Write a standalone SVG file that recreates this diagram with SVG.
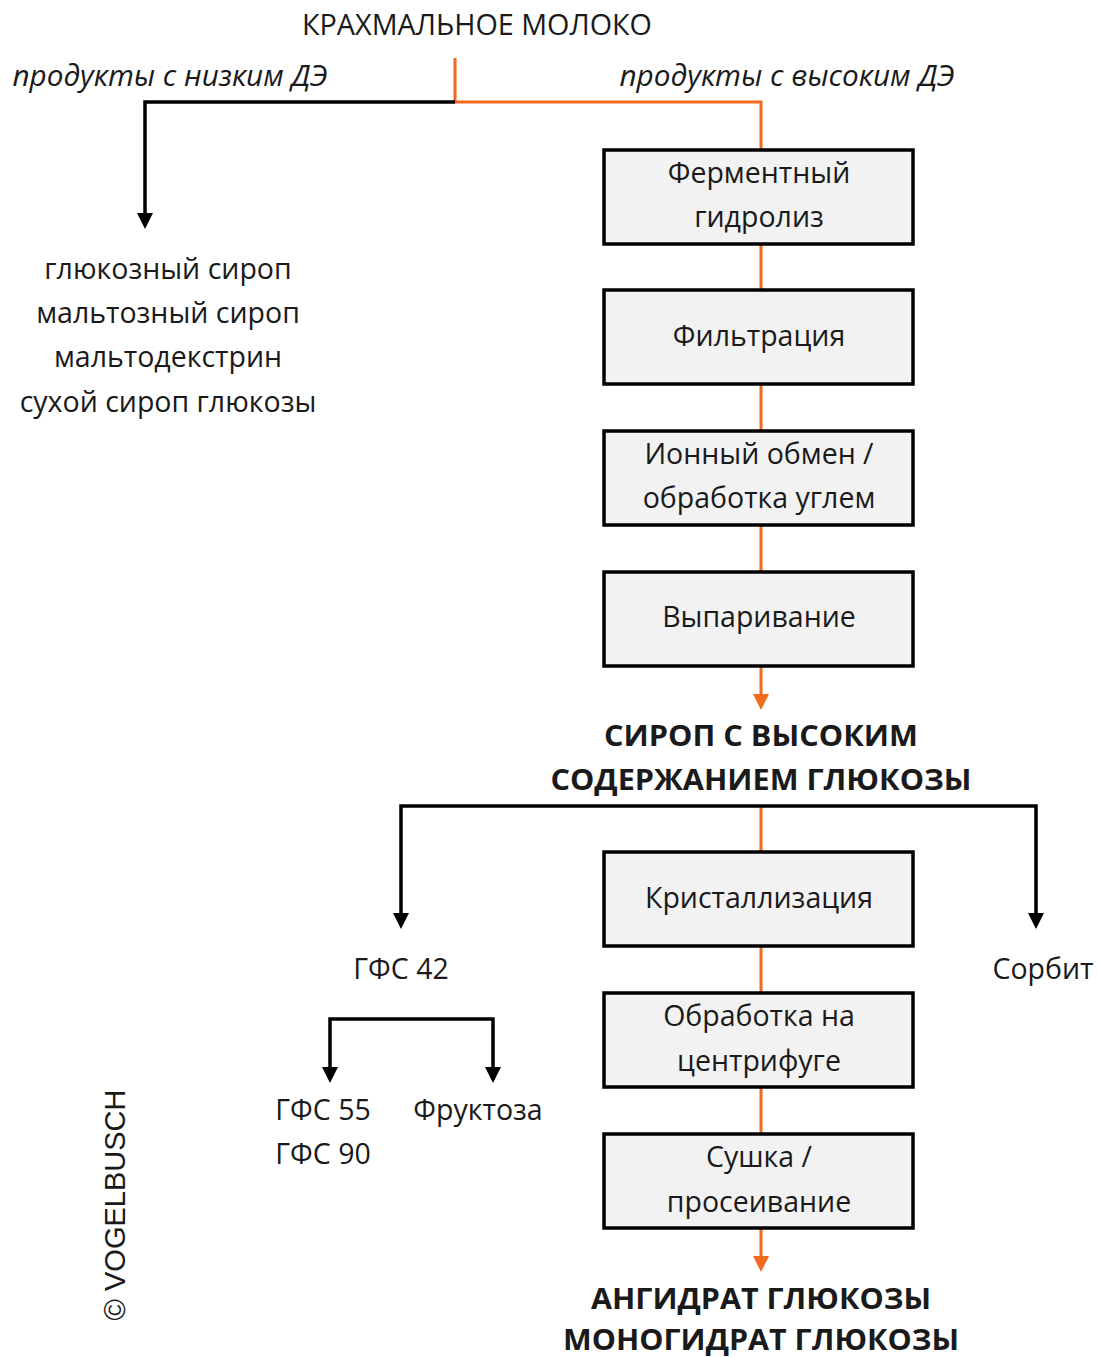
<svg xmlns="http://www.w3.org/2000/svg" width="1098" height="1357" viewBox="0 0 1098 1357">
<style>
.t{font-family:"Open Sans","Noto Sans",sans-serif;font-size:28.5px;fill:#1a1a1a;text-anchor:middle}
.i{font-style:italic}
.b{font-weight:bold}
.box{fill:#f2f2f2;stroke:#000;stroke-width:3.5}
.o{stroke:#f26a1b;stroke-width:3;fill:none}
.k{stroke:#000;stroke-width:3.5;fill:none}
</style>
<rect width="1098" height="1357" fill="#fff"/>
<g id="connectors">
<path class="o" d="M455 58V102H761V150"/>
<path class="k" d="M455 102H145V214"/>
<polygon points="137,213 153,213 145,229" fill="#000"/>
<path class="o" d="M761 244V290M761 384V431M761 525V572M761 666V696"/>
<polygon points="753,694 769,694 761,710" fill="#f26a1b"/>
<path class="o" d="M761 806V852M761 946V993M761 1087V1134M761 1228V1258"/>
<polygon points="753,1256 769,1256 761,1272" fill="#f26a1b"/>
<path class="k" d="M401 914V806H1036V914"/>
<polygon points="393,913 409,913 401,929" fill="#000"/>
<polygon points="1028,913 1044,913 1036,929" fill="#000"/>
<path class="k" d="M330 1068V1019H493V1068"/>
<polygon points="322,1067 338,1067 330,1083" fill="#000"/>
<polygon points="485,1067 501,1067 493,1083" fill="#000"/>
</g>
<g id="start"><text class="t" x="477" y="35" textLength="350" lengthAdjust="spacingAndGlyphs">КРАХМАЛЬНОЕ МОЛОКО</text></g>
<g id="lowDE"><text class="t i" x="170" y="86" textLength="315" lengthAdjust="spacingAndGlyphs">продукты с низким ДЭ</text></g>
<g id="highDE"><text class="t i" x="787" y="86" textLength="335" lengthAdjust="spacingAndGlyphs">продукты с высоким ДЭ</text></g>
<g id="lowProducts">
<text class="t" x="168" y="279">глюкозный сироп</text>
<text class="t" x="168" y="323">мальтозный сироп</text>
<text class="t" x="168" y="367">мальтодекстрин</text>
<text class="t" x="168" y="412">сухой сироп глюкозы</text>
</g>
<g id="n1"><rect class="box" x="604" y="150" width="309" height="94"/><text class="t" x="759" y="183">Ферментный</text><text class="t" x="759" y="227">гидролиз</text></g>
<g id="n2"><rect class="box" x="604" y="290" width="309" height="94"/><text class="t" x="759" y="346">Фильтрация</text></g>
<g id="n3"><rect class="box" x="604" y="431" width="309" height="94"/><text class="t" x="759" y="464">Ионный обмен /</text><text class="t" x="759" y="508">обработка углем</text></g>
<g id="n4"><rect class="box" x="604" y="572" width="309" height="94"/><text class="t" x="759" y="627">Выпаривание</text></g>
<g id="syrup"><text class="t b" x="761" y="746" textLength="314" lengthAdjust="spacingAndGlyphs">СИРОП С ВЫСОКИМ</text><text class="t b" x="761" y="790" textLength="421" lengthAdjust="spacingAndGlyphs">СОДЕРЖАНИЕМ ГЛЮКОЗЫ</text></g>
<g id="n5"><rect class="box" x="604" y="852" width="309" height="94"/><text class="t" x="759" y="908">Кристаллизация</text></g>
<g id="n6"><rect class="box" x="604" y="993" width="309" height="94"/><text class="t" x="759" y="1026">Обработка на</text><text class="t" x="759" y="1071">центрифуге</text></g>
<g id="n7"><rect class="box" x="604" y="1134" width="309" height="94"/><text class="t" x="759" y="1167">Сушка /</text><text class="t" x="759" y="1212">просеивание</text></g>
<g id="final"><text class="t b" x="761" y="1309" textLength="340" lengthAdjust="spacingAndGlyphs">АНГИДРАТ ГЛЮКОЗЫ</text><text class="t b" x="761" y="1350" textLength="396" lengthAdjust="spacingAndGlyphs">МОНОГИДРАТ ГЛЮКОЗЫ</text></g>
<g id="hfs42"><text class="t" x="401" y="979">ГФС 42</text></g>
<g id="sorbit"><text class="t" x="1043" y="979">Сорбит</text></g>
<g id="hfs5590"><text class="t" x="323" y="1120">ГФС 55</text><text class="t" x="323" y="1164">ГФС 90</text></g>
<g id="fructose"><text class="t" x="478" y="1120">Фруктоза</text></g>
<g id="copyright"><text x="0" y="0" transform="translate(125 1205) rotate(-90)" style="font-family:'Liberation Sans',Arial,sans-serif;font-size:29px;fill:#1a1a1a;text-anchor:middle">© VOGELBUSCH</text></g>
</svg>
